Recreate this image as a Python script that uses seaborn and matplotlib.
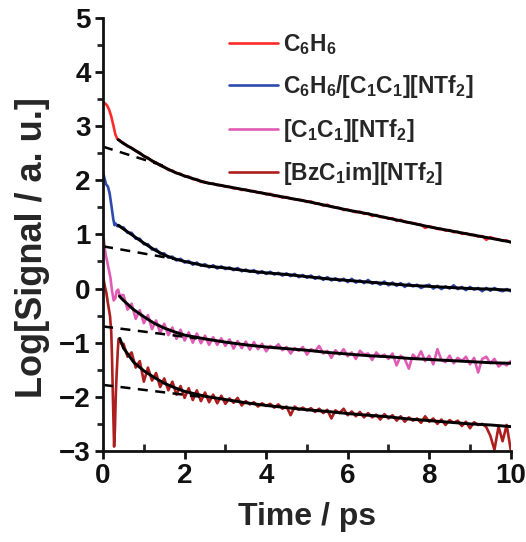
import numpy as np
import matplotlib
matplotlib.use("Agg")
import matplotlib.pyplot as plt
from matplotlib.ticker import MultipleLocator
import seaborn as sns

# ---- data ----
labels = [r"$\mathbf{C_6H_6}$",
          r"$\mathbf{C_6H_6/[C_1C_1][NTf_2]}$",
          r"$\mathbf{[C_1C_1][NTf_2]}$",
          r"$\mathbf{[BzC_1im][NTf_2]}$"]
colors = ["#ff2b2b", "#2e4aae", "#e05cb4", "#ad1f1f"]

# early (t < 0.5 ps) part of each trace
red_t0 = [0.0, 0.05, 0.1, 0.15, 0.2, 0.25, 0.3, 0.35, 0.4, 0.45]
red_y0 = [3.44, 3.42, 3.38, 3.30, 3.18, 3.02, 2.85, 2.76, 2.74, 2.71]
blue_t0 = [0.0, 0.03, 0.07, 0.12, 0.16, 0.21, 0.25, 0.28, 0.31, 0.35, 0.4, 0.45]
blue_y0 = [2.15, 2.05, 1.93, 1.88, 1.76, 1.50, 1.28, 1.17, 1.20, 1.15, 1.16, 1.13]
pink_t0 = [0.0, 0.04, 0.07, 0.1, 0.14, 0.18, 0.22, 0.26, 0.3, 0.33, 0.37, 0.41, 0.45]
pink_y0 = [1.03, 0.75, 0.60, 0.50, 0.35, 0.20, -0.05, -0.22, -0.18, -0.05, -0.02, -0.14, -0.12]
dred_t0 = [0.0, 0.04, 0.08, 0.12, 0.17, 0.2, 0.22, 0.24, 0.26, 0.27, 0.29, 0.31,
           0.33, 0.36, 0.38, 0.41, 0.45]
dred_y0 = [0.23, 0.05, -0.08, -0.28, -0.51, -0.80, -1.30, -2.00, -2.60, -2.92, -2.60,
           -2.00, -1.62, -1.15, -0.93, -0.95, -1.02]

# 0.5 .. 10 ps, 0.1 ps steps
red_y = [2.69, 2.63, 2.60, 2.54, 2.51, 2.44, 2.42, 2.35, 2.33, 2.27, 2.25, 2.19, 2.18, 2.13, 2.12,
         2.07, 2.07, 2.02, 2.02, 1.97, 1.97, 1.94, 1.94, 1.91, 1.91, 1.88, 1.88, 1.85, 1.85, 1.82,
         1.83, 1.80, 1.80, 1.77, 1.77, 1.74, 1.75, 1.71, 1.71, 1.68, 1.69, 1.66, 1.65, 1.64, 1.63,
         1.60, 1.61, 1.57, 1.57, 1.53, 1.55, 1.51, 1.50, 1.49, 1.45, 1.46, 1.43, 1.41, 1.42, 1.38,
         1.39, 1.34, 1.36, 1.32, 1.32, 1.29, 1.30, 1.25, 1.27, 1.23, 1.22, 1.21, 1.19, 1.18, 1.12,
         1.15, 1.13, 1.10, 1.10, 1.07, 1.08, 1.04, 1.05, 1.01, 1.02, 0.99, 0.99, 0.96, 0.97, 0.90,
         0.95, 0.92, 0.91, 0.88, 0.89, 0.85]
blue_y = [1.13, 1.03, 1.03, 0.92, 0.92, 0.82, 0.82, 0.72, 0.73, 0.64, 0.65, 0.57, 0.59, 0.52, 0.55,
          0.48, 0.51, 0.44, 0.48, 0.42, 0.45, 0.39, 0.43, 0.37, 0.41, 0.36, 0.39, 0.34, 0.38, 0.32,
          0.35, 0.31, 0.34, 0.28, 0.32, 0.27, 0.31, 0.26, 0.29, 0.24, 0.28, 0.23, 0.27, 0.21, 0.25,
          0.20, 0.24, 0.18, 0.22, 0.16, 0.21, 0.15, 0.19, 0.14, 0.18, 0.12, 0.18, 0.11, 0.15, 0.10,
          0.16, 0.09, 0.12, 0.07, 0.13, 0.06, 0.11, 0.05, 0.10, 0.03, 0.09, 0.04, 0.07, 0.01, 0.05,
          0.07, 0.00, 0.05, -0.01, 0.04, 0.00, 0.06, -0.01, 0.03, -0.03, 0.03, -0.02, 0.01, -0.05, 0.01,
          -0.04, 0.01, -0.03, -0.05, -0.01, -0.05]
pink_y = [-0.12, -0.39, -0.28, -0.56, -0.40, -0.64, -0.49, -0.75, -0.59, -0.82, -0.65, -0.86, -0.72,
          -0.93, -0.76, -0.96, -0.81, -1.00, -0.83, -1.01, -0.87, -1.04, -0.90, -1.04, -0.92, -1.06,
          -0.94, -1.11, -0.97, -1.10, -0.98, -1.13, -0.99, -1.12, -1.02, -1.16,
          -1.06, -1.10, -1.03, -1.14, -1.08, -1.20, -1.10, -1.15, -1.08, -1.22, -1.12, -1.16, -1.06,
          -1.20, -1.15, -1.28, -1.14, -1.22, -1.12, -1.25, -1.18, -1.30, -1.15, -1.22, -1.20, -1.32,
          -1.18, -1.26, -1.22, -1.30, -1.20, -1.42, -1.24, -1.30, -1.48, -1.22, -1.30, -1.16, -1.34,
          -1.24, -1.40, -1.12, -1.32, -1.36, -1.24, -1.38, -1.28, -1.34, -1.26, -1.40, -1.28, -1.55,
          -1.30, -1.26, -1.38, -1.30, -1.44, -1.38, -1.42, -1.34]
dred_y = [-1.02, -1.26, -1.18, -1.46, -1.34, -1.72, -1.46, -1.70, -1.56, -1.82, -1.66, -1.88, -1.72,
          -1.96, -1.80, -2.02, -1.84, -2.06, -1.88, -2.08, -1.92, -2.10, -1.96, -2.12, -1.98, -2.13,
          -2.03, -2.11, -2.02, -2.16, -2.08, -2.14, -2.10, -2.18, -2.12, -2.17, -2.13, -2.20, -2.14,
          -2.22, -2.18, -2.34, -2.18, -2.24, -2.20, -2.25, -2.21, -2.28, -2.22, -2.30, -2.24, -2.40,
          -2.25, -2.30, -2.22, -2.34, -2.27, -2.36, -2.28, -2.38, -2.30, -2.38, -2.33, -2.42, -2.32,
          -2.40, -2.34, -2.44, -2.36, -2.46, -2.38, -2.44, -2.40, -2.48, -2.36, -2.46, -2.40, -2.50,
          -2.42, -2.52, -2.43, -2.48, -2.44, -2.54, -2.46, -2.58, -2.47, -2.52, -2.50, -2.56, -2.72,
          -2.98, -2.55, -2.82, -2.52, -2.98]

# fitted curves (solid black)
red_fit_t = [0.37, 0.5, 0.75, 1.0, 1.25, 1.5, 1.75, 2.0, 2.5, 3.0, 3.5, 4.0, 4.5, 5.0, 5.5, 6.0,
             6.5, 7.0, 7.5, 8.0, 8.5, 9.0, 9.5, 10.0]
red_fit = [2.75, 2.68, 2.57, 2.45, 2.34, 2.24, 2.15, 2.08, 1.96, 1.89, 1.82, 1.75, 1.68, 1.61,
           1.53, 1.45, 1.38, 1.30, 1.22, 1.14, 1.07, 1.00, 0.93, 0.86]
blue_fit_t = red_fit_t
blue_fit = [1.17, 1.10, 0.97, 0.84, 0.72, 0.62, 0.55, 0.50, 0.42, 0.38, 0.33, 0.29, 0.26, 0.22,
            0.18, 0.15, 0.12, 0.09, 0.06, 0.04, 0.02, 0.00, -0.01, -0.03]
pink_fit_t = [0.4, 0.5, 0.75, 1.0, 1.25, 1.5, 1.75, 2.0, 2.5, 3.0, 3.5, 4.0, 4.5, 5.0, 5.5, 6.0,
              6.5, 7.0, 7.5, 8.0, 8.5, 9.0, 9.5, 10.0]
pink_fit = [-0.14, -0.22, -0.39, -0.52, -0.64, -0.73, -0.80, -0.86, -0.93, -0.99, -1.04, -1.08,
            -1.11, -1.14, -1.18, -1.21, -1.24, -1.26, -1.29, -1.31, -1.33, -1.35, -1.37, -1.38]
dred_fit_t = [0.41, 0.5, 0.75, 1.0, 1.25, 1.5, 1.75, 2.0, 2.5, 3.0, 3.5, 4.0, 4.5, 5.0, 5.5, 6.0,
              6.5, 7.0, 7.5, 8.0, 8.5, 9.0, 9.5, 10.0]
dred_fit = [-0.92, -1.10, -1.36, -1.52, -1.64, -1.75, -1.83, -1.90, -1.99, -2.05, -2.11, -2.16,
            -2.20, -2.24, -2.27, -2.31, -2.34, -2.37, -2.41, -2.44, -2.47, -2.50, -2.52, -2.55]

# slow-component extrapolations (dashed)
dash_t = [[0.0, 1.6], [0.0, 1.8], [0.0, 2.3], [0.0, 2.4]]
dash_y = [[2.62, 2.24], [0.78, 0.54], [-0.70, -0.92], [-1.78, -2.00]]

# ---- plotting ----
sns.set_style("ticks")
plt.rcParams["font.family"] = ["Liberation Sans", "DejaVu Sans"]
plt.rcParams["font.weight"] = "bold"
plt.rcParams["mathtext.fontset"] = "custom"
plt.rcParams["mathtext.rm"] = "Liberation Sans:bold"
plt.rcParams["mathtext.bf"] = "Liberation Sans:bold"
plt.rcParams["mathtext.it"] = "Liberation Sans:bold"
plt.rcParams["mathtext.default"] = "bf"

fig = plt.figure(figsize=(5.26, 5.42), dpi=100)
ax = fig.add_axes([0.196, 0.168, 0.775, 0.799])

early = [(red_t0, red_y0), (blue_t0, blue_y0), (pink_t0, pink_y0), (dred_t0, dred_y0)]
late = [red_y, blue_y, pink_y, dred_y]
fits = [(red_fit_t, red_fit), (blue_fit_t, blue_fit), (pink_fit_t, pink_fit), (dred_fit_t, dred_fit)]

for (t0, y0), yl, col, lab in zip(early, late, colors, labels):
    tl = np.round(0.5 + 0.1 * np.arange(len(yl)), 2)
    t = np.concatenate([t0, tl])
    y = np.concatenate([y0, yl])
    sns.lineplot(x=t, y=y, ax=ax, color=col, lw=1.9, label=lab, sort=False)

for (ft, fy) in fits:
    sns.lineplot(x=ft, y=fy, ax=ax, color="black", lw=2.1, legend=False)

for dt, dy in zip(dash_t, dash_y):
    ax.plot(dt, dy, color="black", lw=1.8, ls=(0, (4, 3)))

ax.set_xlim(0, 10)
ax.set_ylim(-3, 5)
ax.xaxis.set_major_locator(MultipleLocator(2))
ax.xaxis.set_minor_locator(MultipleLocator(1))
ax.yaxis.set_major_locator(MultipleLocator(1))
ax.yaxis.set_minor_locator(MultipleLocator(0.5))
sns.despine(ax=ax)
for s in ["left", "bottom"]:
    ax.spines[s].set_linewidth(2.0)
    ax.spines[s].set_color("#111111")
ax.tick_params(axis="both", which="major", direction="out", length=6, width=2,
               labelsize=20, colors="#111111", pad=3)
ax.tick_params(axis="x", which="minor", direction="in", length=5, width=2)
ax.tick_params(axis="y", which="minor", direction="out", length=4, width=2)
for lbl in ax.get_xticklabels() + ax.get_yticklabels():
    lbl.set_fontweight("bold")

ax.set_xlabel("Time / ps", fontsize=23, fontweight="bold", labelpad=9)
ax.set_ylabel("Log[Signal / a. u.]", fontsize=26, fontweight="bold")
ax.yaxis.set_label_coords(-0.13, 0.47)

ax.legend(loc="upper left", bbox_to_anchor=(0.275, 1.0), frameon=False, fontsize=16.5,
          handlelength=2.15, handletextpad=0.2, labelspacing=0.72, borderaxespad=0.2)

fig.savefig("out.png", dpi=100)
